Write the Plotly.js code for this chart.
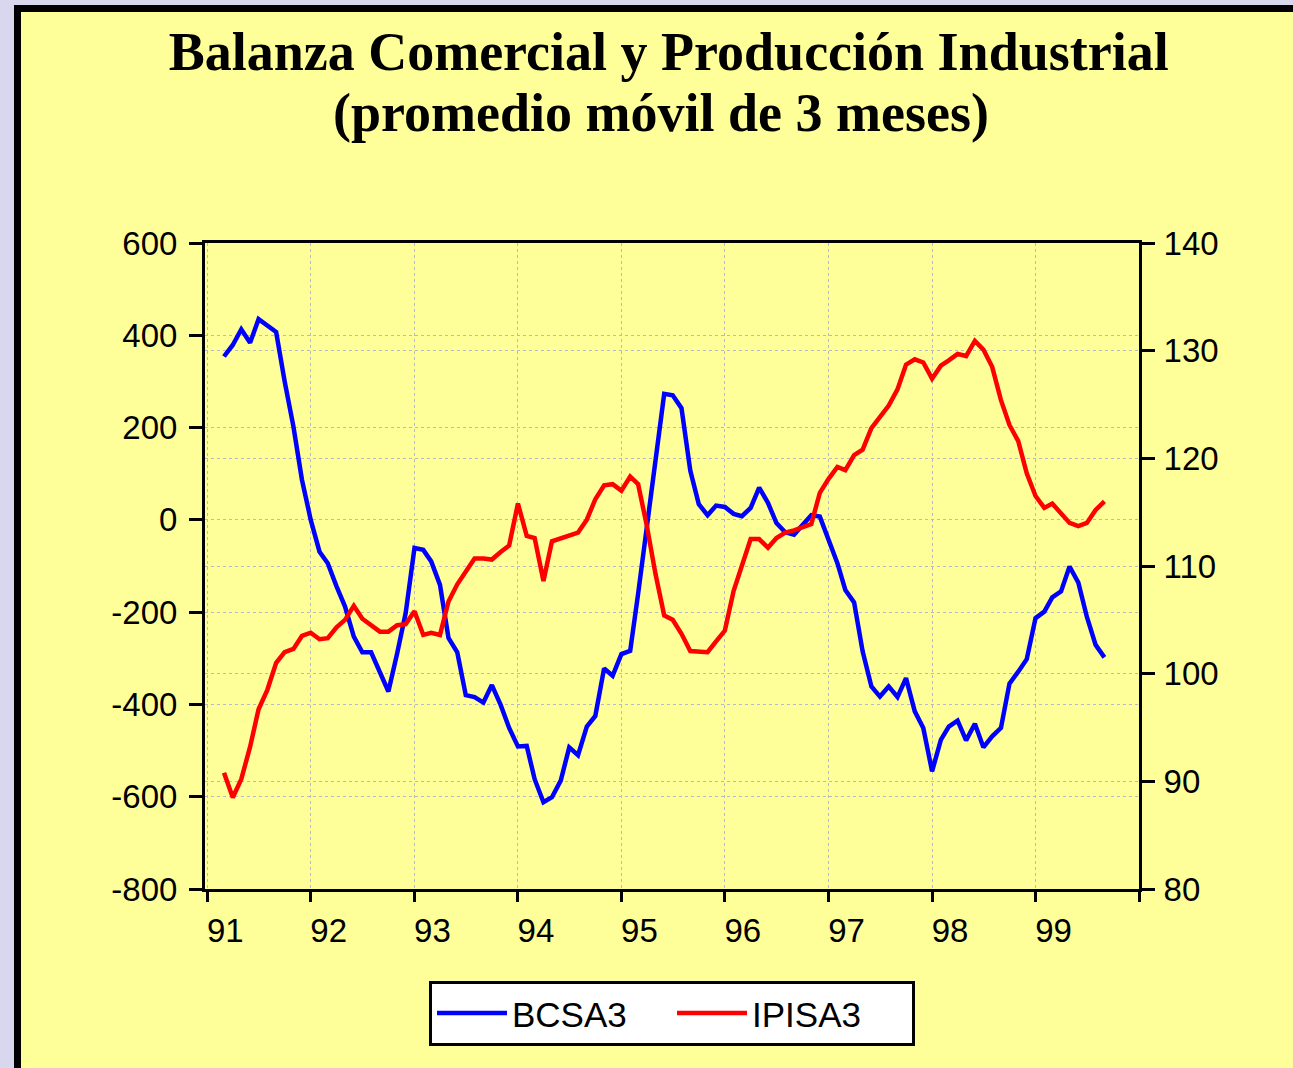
<!DOCTYPE html>
<html>
<head>
<meta charset="utf-8">
<script src="https://cdn.plot.ly/plotly-3.0.1.min.js"></script>
<style>
  html, body { margin: 0; padding: 0; width: 1293px; height: 1068px; overflow: hidden; background: #d7d7ed; }
  #panel { position: absolute; left: 14px; top: 5px; width: 1280px; height: 1060px; border: 7px solid #000; background: #ffff99; }
  #chart { width: 1280px; height: 1060px; }
</style>
</head>
<body>
<div id="panel"><div id="chart"></div></div>
<script>
// Monthly observations, March 1991 to September 1999 (3-month moving averages)
const startYear = 1991;
const startMonth = 3;
const nObs = 103;

// Trade balance (left axis)
const bcsa3 = [
  354, 379, 413, 384, 435, 420, 407, 300, 202, 87,
  0, -69, -94, -144, -188, -253, -287, -287, -329, -372,
  -289, -202, -61, -65, -90, -141, -256, -287, -380, -384,
  -396, -358, -401, -451, -491, -490, -562, -612, -601, -565,
  -493, -510, -448, -425, -322, -338, -291, -284, -160, -9,
  126, 273, 270, 242, 107, 34, 10, 31, 28, 13,
  8, 26, 70, 37, -7, -27, -32, -11, 10, 7,
  -43, -94, -152, -179, -285, -361, -383, -361, -384, -343,
  -415, -451, -545, -477, -448, -435, -478, -442, -493, -469,
  -451, -355, -329, -302, -213, -199, -168, -155, -101, -136,
  -210, -271, -298
];

// Industrial production index (right axis)
const ipisa3 = [
  90.8, 88.5, 90.2, 93.2, 96.7, 98.5, 101.0, 102.0, 102.3, 103.5,
  103.8, 103.2, 103.3, 104.3, 105.0, 106.3, 105.1, 104.5, 103.9, 103.9,
  104.5, 104.6, 105.8, 103.6, 103.8, 103.6, 106.7, 108.3, 109.5, 110.7,
  110.7, 110.6, 111.3, 111.9, 115.8, 112.8, 112.6, 108.6, 112.3, 112.6,
  112.8, 113.1, 114.3, 116.2, 117.5, 117.6, 117.0, 118.3, 117.6, 113.7,
  109.3, 105.4, 105.0, 103.7, 102.1, 102.0, 102.0, 103.0, 104.0, 107.7,
  109.9, 112.5, 112.5, 111.7, 112.6, 113.1, 113.3, 113.6, 113.9, 116.8,
  118.1, 119.2, 118.9, 120.3, 120.8, 122.8, 123.9, 124.9, 126.4, 128.7,
  129.2, 128.9, 127.4, 128.6, 129.1, 129.7, 129.5, 130.9, 130.1, 128.5,
  125.4, 123.1, 121.6, 118.6, 116.5, 115.4, 115.8, 114.9, 114.0, 113.7,
  114.0, 115.2, 116.0
];

const yearTickVals = ['1991-01-01','1992-01-01','1993-01-01','1994-01-01','1995-01-01',
                      '1996-01-01','1997-01-01','1998-01-01','1999-01-01','2000-01-01'];
const yearTickText = ['91','92','93','94','95','96','97','98','99',''];
const leftTicks = [-800, -600, -400, -200, 0, 200, 400, 600];
const leftTickText = ['-800', '-600', '-400', '-200', '0', '200', '400', '600'];
const rightTicks = [80, 90, 100, 110, 120, 130, 140];
const rightTickText = ['80', '90', '100', '110', '120', '130', '140'];

const titleLine1 = 'Balanza Comercial y Producción Industrial';
const titleLine2 = '(promedio móvil de 3 meses)';

// month dates for the observations
const dates = [];
for (let i = 0; i < nObs; i++) {
  const m = startMonth - 1 + i;
  const y = startYear + Math.floor(m / 12);
  const mm = (m % 12) + 1;
  dates.push(y + '-' + (mm < 10 ? '0' + mm : mm) + '-01');
}

const tickFont = { family: 'Liberation Sans, Arial, sans-serif', size: 33, color: '#000' };
const gridCol = '#b8b8cc';
const serif = 'Liberation Serif, Times New Roman, serif';

const traces = [
  { x: dates, y: bcsa3, name: 'BCSA3', type: 'scatter', mode: 'lines',
    line: { color: '#0000ff', width: 4.5 }, yaxis: 'y' },
  { x: dates, y: ipisa3, name: 'IPISA3', type: 'scatter', mode: 'lines',
    line: { color: '#ff0000', width: 4.5 }, yaxis: 'y2' }
];

const layout = {
  width: 1280, height: 1060,
  paper_bgcolor: '#ffff99', plot_bgcolor: '#ffff99',
  margin: { l: 184, r: 162, t: 231, b: 183 },
  title: {
    text: titleLine1,
    font: { family: serif, size: 54, color: '#000', weight: 'bold' },
    x: 0.506, xanchor: 'center', xref: 'container',
    y: 0.963, yanchor: 'middle', yref: 'container'
  },
  annotations: [{
    text: titleLine2, showarrow: false,
    font: { family: serif, size: 54, color: '#000', weight: 'bold' },
    xref: 'paper', yref: 'paper', x: 0.488, xanchor: 'center', y: 1.202, yanchor: 'middle'
  }],
  showlegend: true,
  legend: {
    orientation: 'h', x: 0.5, xanchor: 'center', y: -0.142, yanchor: 'top',
    bgcolor: '#ffffff', bordercolor: '#000', borderwidth: 3,
    font: { family: 'Liberation Sans, Arial, sans-serif', size: 35, color: '#000' },
    itemwidth: 70, entrywidth: 155, entrywidthmode: 'pixels'
  },
  xaxis: {
    type: 'date', range: ['1990-12-24', '2000-01-01'],
    tickmode: 'array', tickvals: yearTickVals, ticktext: yearTickText,
    ticks: 'outside', ticklen: 10, tickwidth: 3, tickcolor: '#000',
    showline: true, linewidth: 3, linecolor: '#000', mirror: true,
    showgrid: true, gridcolor: gridCol, griddash: 'dot', gridwidth: 1,
    zeroline: false, tickfont: tickFont, ticklabelshift: 18, ticklabelstandoff: 0
  },
  yaxis: {
    range: [-800, 600], tickmode: 'array', tickvals: leftTicks, ticktext: leftTickText,
    ticks: 'outside', ticklen: 13, tickwidth: 3, tickcolor: '#000',
    showline: true, linewidth: 3, linecolor: '#000',
    showgrid: true, gridcolor: gridCol, griddash: 'dot', gridwidth: 1,
    zeroline: false, tickfont: tickFont, ticklabelstandoff: 5
  },
  yaxis2: {
    range: [80, 140], tickmode: 'array', tickvals: rightTicks, ticktext: rightTickText,
    overlaying: 'y', side: 'right',
    ticks: 'outside', ticklen: 13, tickwidth: 3, tickcolor: '#000',
    showline: true, linewidth: 3, linecolor: '#000',
    showgrid: true, gridcolor: gridCol, griddash: 'dot', gridwidth: 1,
    zeroline: false, tickfont: tickFont, ticklabelstandoff: 2
  }
};

Plotly.newPlot('chart', traces, layout, { displayModeBar: false, staticPlot: true });
</script>
</body>
</html>
